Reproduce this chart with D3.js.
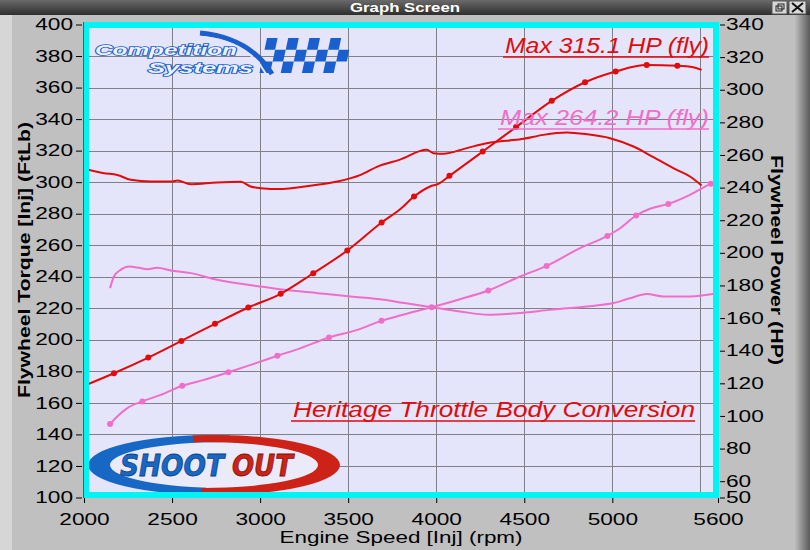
<!DOCTYPE html>
<html>
<head>
<meta charset="utf-8">
<script src="https://cdn.jsdelivr.net/npm/d3@7"></script>
<style>
  html, body { margin: 0; padding: 0; background: #c0c0c0; }
  svg { display: block; font-family: "Liberation Sans", Arial, sans-serif; }
</style>
</head>
<body>
<svg id="ch" width="810" height="550"></svg>
<script>
// Dyno sheet: flywheel torque (left axis) and power (right axis) vs engine speed

// ---- data ----
const rpmTicks = [2000, 2500, 3000, 3500, 4000, 4500, 5000, 5600];
const rpmGrid = [2500, 3000, 3500, 4000, 4500, 5000, 5500];
const torqueTicks = [100, 120, 140, 160, 180, 200, 220, 240, 260, 280, 300, 320, 340, 360, 380, 400];
const powerTicks = [50, 60, 80, 100, 120, 140, 160, 180, 200, 220, 240, 260, 280, 300, 320, 340];

// [rpm, ftlb]
const redTorque = [[2000,308.5],[2114,305.7],[2189,304.6],[2265,301.5],[2379,300.4],[2502,300.4],[2530,301],
  [2606,298.7],[2757,299.8],[2890,300.2],[2946,297.3],[3003,296.2],[3117,295.6],[3211,296.6],[3325,298.3],
  [3439,300.4],[3571,304.6],[3666,309.9],[3794,314.3],[3946,320.5],[3984,318.4],[4040,318],[4173,321.6],
  [4287,324.7],[4495,327.5],[4608,330],[4741,331.5],[4855,330.4],[4987,327.9],[5120,322.6],[5233,315.9],
  [5366,307.8],[5441,303.6],[5507,297.9]];

// [rpm, hp, dot]
const redPower = [[2000,118.5,0],[2170,126.2,1],[2365,135.8,1],[2553,146,1],[2744,156.5,1],[2933,166.5,1],
  [3117,174.9,1],[3302,187.5,1],[3495,201.4,1],[3690,218.6,1],[3800,227.2,0],[3874,234.5,1],[3965,240.7,0],
  [4012,242.3,0],[4075,247.2,1],[4264,262.1,1],[4453,277.1,1],[4656,293.2,1],[4845,304.6,1],[5019,311.2,1],
  [5195,315.1,1],[5369,314.7,1],[5460,313.8,0],[5507,312.2,0]];

const pinkTorque = [[2148,232.8],[2170,240.2],[2208,244.4],[2256,246.5],[2303,245.9],[2360,244.8],[2416,245.7],
  [2492,244],[2606,242.3],[2757,238.1],[2890,235.5],[3003,233.8],[3136,231.7],[3325,229.6],[3514,227.5],
  [3704,225.4],[3810,223.5],[3984,220.5],[4135,218],[4296,215.9],[4457,216.9],[4646,219],[4855,221.2],
  [5006,223.3],[5100,226.4],[5195,229],[5290,227.5],[5441,227.5],[5600,229.5]];

const pinkPower = [[2148,95,1],[2189,99.7,0],[2246,104.8,0],[2331,108.9,1],[2435,112.9,0],[2558,118.5,1],
  [2681,122.1,0],[2820,126.8,1],[2947,131.3,0],[3098,136.9,1],[3230,141.6,0],[3391,148.1,1],[3552,152.8,0],
  [3689,158.3,1],[3800,161.7,0],[3974,166.7,1],[4135,171.6,0],[4296,176.9,1],[4476,185.5,0],[4627,192,1],
  [4817,202.9,0],[4972,210.4,1],[5044,215.1,0],[5135,222.9,1],[5214,227,0],[5318,230,1],[5441,235.6,0],
  [5559,242.3,1],[5600,244,0]];

const notes = ["Max 315.1 HP (fly)", "Max 264.2 HP (fly)", "Heritage Throttle Body Conversion"];

const RED = "#e20a0a";
const PINK = "#f06ec8";

// ---- scales ----
const x = d3.scaleLinear().domain([2000, 5600]).range([84, 718]);
const yL = d3.scaleLinear().domain([100, 400]).range([497.5, 24.5]);
const yR = d3.scaleLinear().domain([50, 340]).range([497.5, 24.5]);

const svg = d3.select("#ch");
const defs = svg.append("defs");

/* window chrome */
const tb = defs.append("linearGradient").attr("id", "tb").attr("x1", 0).attr("y1", 0).attr("x2", 0).attr("y2", 1);
tb.append("stop").attr("offset", 0).attr("stop-color", "#6a6a6a");
tb.append("stop").attr("offset", 1).attr("stop-color", "#2e2e2e");
const rs = defs.append("linearGradient").attr("id", "rs").attr("x1", 0).attr("y1", 0).attr("x2", 1).attr("y2", 0);
rs.append("stop").attr("offset", 0).attr("stop-color", "#c4c4c4");
rs.append("stop").attr("offset", 1).attr("stop-color", "#5a5a5a");

svg.append("rect").attr("width", 810).attr("height", 550).attr("fill", "#c0c0c0");
svg.append("rect").attr("x", 0).attr("y", 15).attr("width", 12).attr("height", 535).attr("fill", "#d6d6d6");
svg.append("rect").attr("x", 794).attr("y", 15).attr("width", 16).attr("height", 535).attr("fill", "url(#rs)");
svg.append("rect").attr("width", 810).attr("height", 15).attr("fill", "url(#tb)");
svg.append("text").attr("x", 405).attr("y", 12).attr("text-anchor", "middle")
  .attr("fill", "#fff").attr("font-size", 13).attr("font-weight", "bold")
  .attr("textLength", 110).attr("lengthAdjust", "spacingAndGlyphs").text("Graph Screen");
// restore / close buttons
svg.append("rect").attr("x", 772).attr("y", 1).attr("width", 15).attr("height", 13).attr("fill", "#d8d8d8").attr("stroke", "#555");
svg.append("rect").attr("x", 776).attr("y", 6).attr("width", 6).attr("height", 5).attr("fill", "none").attr("stroke", "#222");
svg.append("rect").attr("x", 778).attr("y", 4).attr("width", 6).attr("height", 5).attr("fill", "none").attr("stroke", "#222");
svg.append("rect").attr("x", 789).attr("y", 1).attr("width", 17).attr("height", 13).attr("fill", "#d8d8d8").attr("stroke", "#555");
svg.append("path").attr("d", "M792,3L803,12M803,3L792,12").attr("stroke", "#111").attr("stroke-width", 2);

/* plot background + grid */
svg.append("rect").attr("x", 84).attr("y", 24).attr("width", 634).attr("height", 474).attr("fill", "#e4e4fa");

const grid = svg.append("g").attr("stroke", "#808088").attr("stroke-width", 1);
grid.selectAll("line.h").data(torqueTicks.slice(1, -1)).join("line").attr("class", "h")
  .attr("x1", 84).attr("x2", 718).attr("y1", d => Math.round(yL(d)) + 0.5).attr("y2", d => Math.round(yL(d)) + 0.5);
grid.selectAll("line.v").data(rpmGrid).join("line").attr("class", "v")
  .attr("y1", 24).attr("y2", 498).attr("x1", d => Math.round(x(d)) + 0.5).attr("x2", d => Math.round(x(d)) + 0.5);

/* logos */
const logo1 = svg.append("g");
const cols = d3.range(8), rows = d3.range(3);
const cells = [];
rows.forEach(r => cols.forEach(c => { if ((r + c) % 2 === 0) cells.push([r, c]); }));
logo1.selectAll("path.cell").data(cells).join("path").attr("class", "cell")
  .attr("fill", "#1a5fcf")
  .attr("d", ([r, c]) => {
    const x0 = 260 + c * 10.6 + (2 - r) * 2.5, y0 = 38 + r * 11.7;
    return `M${x0 + 2},${y0}h10.6l-2.5,11.7h-10.6z`;
  });
logo1.append("path").attr("d", "M200,33 Q250,38 272,74").attr("fill", "none")
  .attr("stroke", "#1a5fcf").attr("stroke-width", 5);
logo1.append("path").attr("d", "M204,37 Q248,42 266,74").attr("fill", "none")
  .attr("stroke", "#e4e4fa").attr("stroke-width", 2);
logo1.append("text").attr("x", 95).attr("y", 55).attr("font-size", 15).attr("font-weight", "bold")
  .attr("font-style", "italic").attr("fill", "#eef2fd").attr("stroke", "#1a5fcf").attr("stroke-width", 1.6)
  .attr("paint-order", "stroke").attr("textLength", 142).attr("lengthAdjust", "spacingAndGlyphs").text("Competition");
logo1.append("text").attr("x", 148).attr("y", 73).attr("font-size", 14).attr("font-weight", "bold")
  .attr("font-style", "italic").attr("fill", "#eef2fd").attr("stroke", "#1a5fcf").attr("stroke-width", 1.6)
  .attr("paint-order", "stroke").attr("textLength", 105).attr("lengthAdjust", "spacingAndGlyphs").text("Systems");

const logo2 = svg.append("g");
defs.append("clipPath").attr("id", "cb").append("path").attr("d", "M60,420H237L200,500H60Z");
defs.append("clipPath").attr("id", "cr").append("path").attr("d", "M190,420H360V500H203Z");
logo2.append("ellipse").attr("cx", 214).attr("cy", 465).attr("rx", 122).attr("ry", 27).attr("fill", "#eaeaf8");
logo2.append("path").attr("clip-path", "url(#cb)").attr("fill", "#1668c4").attr("fill-rule", "evenodd")
  .attr("d", "M88,465a126,30 0 1,0 252,0a126,30 0 1,0 -252,0Z M110,465a114,23 0 1,0 228,0a114,23 0 1,0 -228,0Z");
logo2.append("path").attr("clip-path", "url(#cr)").attr("fill", "#cc2218").attr("fill-rule", "evenodd")
  .attr("d", "M88,465a126,30 0 1,0 252,0a126,30 0 1,0 -252,0Z M90,465a114,23 0 1,0 228,0a114,23 0 1,0 -228,0Z");
const logoWords = [
  { t: "SHOOT", x: 120, w: 104, fill: "#1668c4", stroke: "#0d3f86" },
  { t: "OUT", x: 232, w: 61, fill: "#cc2218", stroke: "#7a120c" }
];
logoWords.forEach(s => {
  logo2.append("text").attr("x", s.x).attr("y", 476).attr("font-family", "'DejaVu Sans', sans-serif")
    .attr("font-size", 30).attr("font-weight", "bold").attr("font-style", "italic")
    .attr("fill", s.fill).attr("stroke", s.stroke).attr("stroke-width", 0.8)
    .attr("textLength", s.w).attr("lengthAdjust", "spacingAndGlyphs").text(s.t);
});

/* curves */
defs.append("clipPath").attr("id", "plot").append("rect").attr("x", 84).attr("y", 24).attr("width", 634).attr("height", 474);
const plot = svg.append("g").attr("clip-path", "url(#plot)");

const lineL = d3.line().x(d => x(d[0])).y(d => yL(d[1])).curve(d3.curveMonotoneX);
const lineR = d3.line().x(d => x(d[0])).y(d => yR(d[1])).curve(d3.curveMonotoneX);

plot.append("path").datum(pinkTorque).attr("d", lineL).attr("fill", "none").attr("stroke", PINK).attr("stroke-width", 2);
plot.append("path").datum(pinkPower).attr("d", lineR).attr("fill", "none").attr("stroke", PINK).attr("stroke-width", 2);
plot.selectAll("circle.pk").data(pinkPower.filter(d => d[2])).join("circle").attr("class", "pk")
  .attr("cx", d => x(d[0])).attr("cy", d => yR(d[1])).attr("r", 3).attr("fill", PINK);

plot.append("path").datum(redTorque).attr("d", lineL).attr("fill", "none").attr("stroke", RED).attr("stroke-width", 2);
plot.append("path").datum(redPower).attr("d", lineR).attr("fill", "none").attr("stroke", RED).attr("stroke-width", 2);
plot.selectAll("circle.rd").data(redPower.filter(d => d[2])).join("circle").attr("class", "rd")
  .attr("cx", d => x(d[0])).attr("cy", d => yR(d[1])).attr("r", 3).attr("fill", RED);

/* annotations */
const noteStyle = [
  { c: RED, x: 709, y: 53, w: 204 },
  { c: PINK, x: 709, y: 125, w: 209 },
  { c: RED, x: 695, y: 417, w: 402 }
];
notes.forEach((t, i) => {
  const s = noteStyle[i];
  svg.append("text").attr("x", s.x).attr("y", s.y).attr("text-anchor", "end")
    .attr("font-size", 22).attr("font-style", "italic").attr("fill", s.c)
    .attr("textLength", s.w).attr("lengthAdjust", "spacingAndGlyphs").text(t);
  svg.append("line").attr("x1", s.x - s.w - 2).attr("x2", s.x).attr("y1", s.y + 4).attr("y2", s.y + 4)
    .attr("stroke", s.c).attr("stroke-width", 1.5);
});

/* frame */
svg.append("rect").attr("x", 86).attr("y", 25).attr("width", 630).attr("height", 470)
  .attr("fill", "none").attr("stroke", "#00f4f4").attr("stroke-width", 6);
svg.append("line").attr("x1", 83.5).attr("x2", 83.5).attr("y1", 22).attr("y2", 498).attr("stroke", "#4a4ad0");

/* axes */
const digitW = 12.6;
const styleTicks = g => {
  g.select(".domain").remove();
  g.selectAll("line").attr("stroke", "#000");
  g.selectAll("text").attr("fill", "#000").attr("font-size", 16)
    .attr("textLength", d => String(d).length * digitW).attr("lengthAdjust", "spacingAndGlyphs");
};

svg.append("g").attr("transform", "translate(82,0)")
  .call(d3.axisLeft(yL).tickValues(torqueTicks).tickSize(6).tickPadding(3).tickFormat(d3.format("d")))
  .call(styleTicks);
svg.append("g").attr("transform", "translate(720,0)")
  .call(d3.axisRight(yR).tickValues(powerTicks).tickSize(5).tickPadding(1).tickFormat(d3.format("d")))
  .call(styleTicks);
svg.append("g").attr("transform", "translate(0,498)")
  .call(d3.axisBottom(x).tickValues(rpmTicks).tickSize(5).tickPadding(11).tickFormat(d3.format("d")))
  .call(styleTicks);

svg.append("text").attr("transform", "translate(30,260) rotate(-90)").attr("text-anchor", "middle")
  .attr("font-size", 16).attr("font-weight", "bold").attr("textLength", 276).attr("lengthAdjust", "spacingAndGlyphs")
  .text("Flywheel Torque [Inj] (FtLb)");
svg.append("text").attr("transform", "translate(771,260) rotate(90)").attr("text-anchor", "middle")
  .attr("font-size", 16).attr("font-weight", "bold").attr("textLength", 210).attr("lengthAdjust", "spacingAndGlyphs")
  .text("Flywheel Power (HP)");
svg.append("text").attr("x", 401).attr("y", 543).attr("text-anchor", "middle")
  .attr("font-size", 16).attr("textLength", 243).attr("lengthAdjust", "spacingAndGlyphs")
  .text("Engine Speed [Inj] (rpm)");
</script>
</body>
</html>
